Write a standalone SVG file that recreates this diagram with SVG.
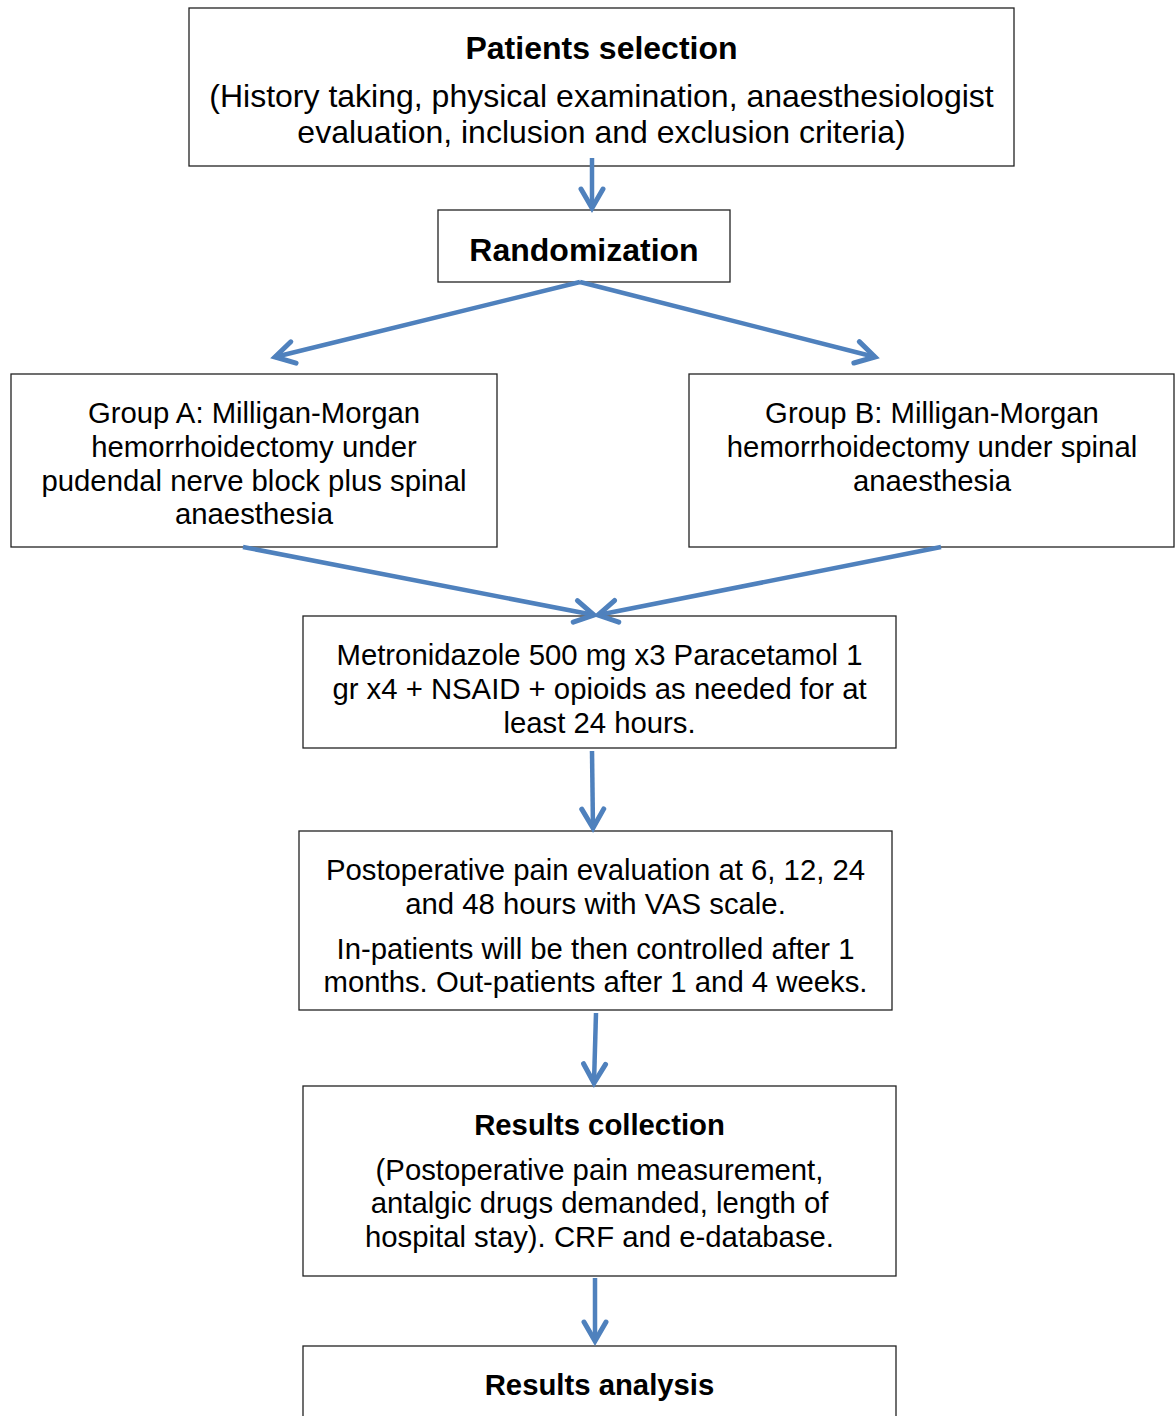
<svg xmlns="http://www.w3.org/2000/svg" width="1176" height="1416" viewBox="0 0 1176 1416">
<style>
.box{fill:#fff;stroke:#222;stroke-width:1.3}
.t{font-family:"Liberation Sans",Arial,sans-serif;fill:#000;text-anchor:middle}
.b{font-weight:bold}
.f32{font-size:32px}
.f29{font-size:29.3px}
.c{fill:none;stroke:#4F81BD;stroke-width:4.5;marker-end:url(#ah)}
</style>
<defs>
<marker id="ah" markerUnits="userSpaceOnUse" markerWidth="28" markerHeight="28" viewBox="0 0 28 28" refX="23" refY="14" orient="auto">
<path d="M4,3 L23,14 L4,25" fill="none" stroke="#4F81BD" stroke-width="5" stroke-linecap="round" stroke-linejoin="miter"/>
</marker>
</defs>
<rect width="1176" height="1416" fill="#fff"/>
<g id="patients-selection">
<rect class="box" x="189" y="8" width="825" height="158"/>
<text class="t b f32" x="601.5" y="59">Patients selection</text>
<text class="t f32" x="601.5" y="107">(History taking, physical examination, anaesthesiologist</text>
<text class="t f32" x="601.5" y="143">evaluation, inclusion and exclusion criteria)</text>
</g>
<g id="randomization">
<rect class="box" x="438" y="210" width="292" height="72"/>
<text class="t b f32" x="584" y="261">Randomization</text>
</g>
<g id="group-a">
<rect class="box" x="11" y="374" width="486" height="173"/>
<text class="t f29" x="254" y="423">Group A: Milligan-Morgan</text>
<text class="t f29" x="254" y="457">hemorrhoidectomy under</text>
<text class="t f29" x="254" y="491">pudendal nerve block plus spinal</text>
<text class="t f29" x="254" y="524">anaesthesia</text>
</g>
<g id="group-b">
<rect class="box" x="689" y="374" width="485" height="173"/>
<text class="t f29" x="932" y="423">Group B: Milligan-Morgan</text>
<text class="t f29" x="932" y="457">hemorrhoidectomy under spinal</text>
<text class="t f29" x="932" y="491">anaesthesia</text>
</g>
<g id="medication">
<rect class="box" x="303" y="616" width="593" height="132"/>
<text class="t f29" x="599.5" y="665">Metronidazole 500 mg x3 Paracetamol 1</text>
<text class="t f29" x="599.5" y="699">gr x4 + NSAID + opioids as needed for at</text>
<text class="t f29" x="599.5" y="733">least 24 hours.</text>
</g>
<g id="pain-evaluation">
<rect class="box" x="299" y="831" width="593" height="179"/>
<text class="t f29" x="595.5" y="880">Postoperative pain evaluation at 6, 12, 24</text>
<text class="t f29" x="595.5" y="914">and 48 hours with VAS scale.</text>
<text class="t f29" x="595.5" y="959">In-patients will be then controlled after 1</text>
<text class="t f29" x="595.5" y="992">months. Out-patients after 1 and 4 weeks.</text>
</g>
<g id="results-collection">
<rect class="box" x="303" y="1086" width="593" height="190"/>
<text class="t b f29" x="599.5" y="1135">Results collection</text>
<text class="t f29" x="599.5" y="1180">(Postoperative pain measurement,</text>
<text class="t f29" x="599.5" y="1213">antalgic drugs demanded, length of</text>
<text class="t f29" x="599.5" y="1247">hospital stay). CRF and e-database.</text>
</g>
<g id="results-analysis">
<rect class="box" x="303" y="1346" width="593" height="100"/>
<text class="t b f29" x="599.5" y="1395">Results analysis</text>
</g>
<g id="connectors">
<path class="c" d="M592,158 L592,208"/>
<path class="c" d="M580,282 L275,357"/>
<path class="c" d="M580,282 L875,357"/>
<path class="c" d="M243,547 L594,615"/>
<path class="c" d="M941,547 L598,615"/>
<path class="c" d="M592,751 L593,828"/>
<path class="c" d="M596,1013 L594,1083"/>
<path class="c" d="M595,1278 L595,1341"/>
</g>
</svg>
